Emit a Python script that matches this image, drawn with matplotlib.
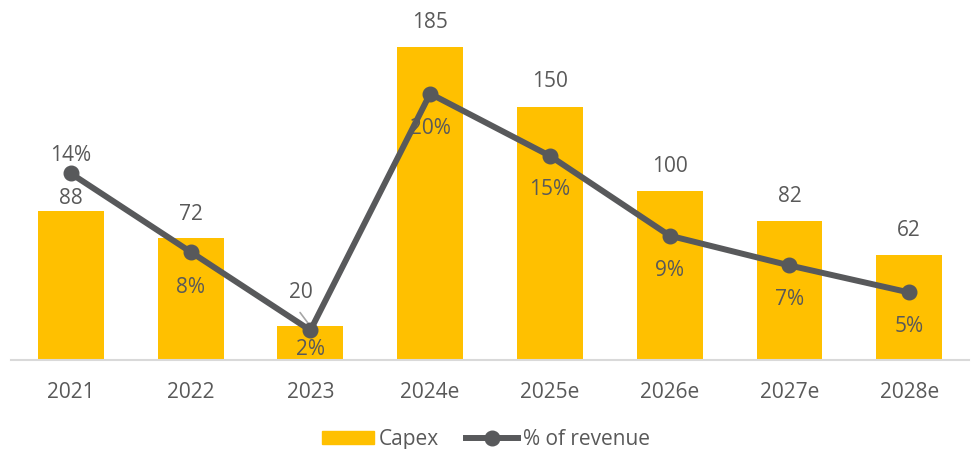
import matplotlib
matplotlib.use("Agg")
import matplotlib.pyplot as plt
from matplotlib.lines import Line2D
from matplotlib.patches import Patch

categories = ["2021", "2022", "2023", "2024e", "2025e", "2026e", "2027e", "2028e"]
capex = [88, 72, 20, 185, 150, 100, 82, 62]
pct_revenue = [13.8, 8.0, 2.2, 19.7, 15.1, 9.2, 7.0, 5.0]
pct_labels = ["14%", "8%", "2%", "20%", "15%", "9%", "7%", "5%"]

# label offsets in pixels (center of text relative to anchor), styling only
bar_label_dx = [0, 0, -10, 0, 0, 0, 0, 0]
bar_label_dy = [13, 24, 34, 25, 25, 25, 25, 25]
pct_label_dy = [18, -36, -19, -35, -34, -35, -34, -34]

BAR = "#FFC000"
LINE = "#58595B"
TXT = "#595959"
FS = 15
plt.rcParams['font.family'] = ['Open Sans', 'DejaVu Sans']

fig = plt.figure(figsize=(9.72, 4.49), dpi=100)
ax = fig.add_axes([0.0113, 0.198, 0.9857, 0.753])
x = list(range(len(categories)))
ax.bar(x, capex, width=0.55, color=BAR, zorder=2)
ax.set_ylim(0, 200)
ax.set_xlim(-0.5, len(categories) - 0.5)
for s in ["top", "left", "right"]:
    ax.spines[s].set_visible(False)
ax.spines["bottom"].set_color("#D9D9D9")
ax.spines["bottom"].set_linewidth(1.5)
ax.set_yticks([])
ax.set_xticks(x)
ax.set_xticklabels(categories, fontsize=FS, color=TXT)
ax.tick_params(axis="x", length=0, pad=16)

px = 72.0 / fig.dpi
for xi, v, dx, dy in zip(x, capex, bar_label_dx, bar_label_dy):
    ax.annotate(str(v), (xi, v), xytext=(dx * px, dy * px), textcoords="offset points",
                ha="center", va="center", fontsize=FS, color=TXT, zorder=5)

# leader line for the 2023 label
ax.annotate("", (x[2], capex[2]), xytext=(-12 * px, 16 * px), textcoords="offset points",
            arrowprops=dict(arrowstyle="-", color="#A6A6A6", lw=1.2), zorder=3)

ax2 = ax.twinx()
ax2.set_ylim(0, 25)
ax2.plot(x, pct_revenue, color=LINE, lw=4.3, marker="o", markersize=10.5, zorder=4)
ax2.axis("off")
for xi, v, lab, dy in zip(x, pct_revenue, pct_labels, pct_label_dy):
    ax2.annotate(lab, (xi, v), xytext=(0, dy * px), textcoords="offset points",
                 ha="center", va="center", fontsize=FS, color=TXT, zorder=6)

handles = [Patch(color=BAR, label="Capex"),
           Line2D([], [], color=LINE, lw=4.3, marker="o", markersize=10.5, label="% of revenue")]
fig.legend(handles=handles, loc="center", bbox_to_anchor=(0.5, 0.022), ncol=2, frameon=False,
           fontsize=FS, labelcolor=TXT, handlelength=2.5, handleheight=0.62, columnspacing=1.3,
           handletextpad=0.25)

fig.savefig("out.png", dpi=100)
